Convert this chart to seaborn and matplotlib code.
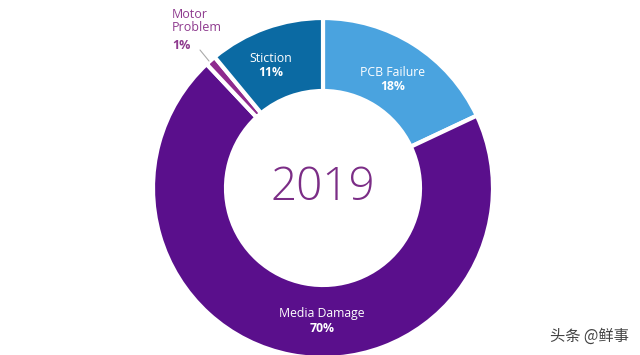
import seaborn as sns
import matplotlib.pyplot as plt

# slice data, clockwise from 12 o'clock
causes = ['PCB Failure', 'Media Damage', 'Motor Problem', 'Stiction']
shares = [18, 70, 1, 11]
colors = ['#4aa3df', '#5a0f8c', '#8e2a8e', '#0b6aa3']
year = '2019'

sns.set_theme(style='white')
plt.rcParams['font.family'] = ['Open Sans', 'DejaVu Sans']

fig = plt.figure(figsize=(6.4, 3.55), dpi=100)
ax = fig.add_axes([0, 0, 1, 1])

# donut
ax.pie(shares, colors=colors, startangle=90, counterclock=False,
       center=(323, 167), radius=170,
       wedgeprops=dict(width=73, edgecolor='white', linewidth=3))

# pie() resets the limits, so set them afterwards
ax.set_xlim(0, 640)
ax.set_ylim(0, 355)
ax.set_aspect('equal')
ax.axis('off')

ax.text(323, 167, year, ha='center', va='center', fontsize=33,
        color='#7b2d86', fontweight='light')

# in-slice labels
label_style = dict(ha='center', va='center', color='white', linespacing=1.15)
for name, pct, x, y in [('PCB Failure', 18, 393, 276),
                        ('Stiction', 11, 271, 290),
                        ('Media Damage', 70, 322, 34)]:
    ax.text(x, y + 7, name, fontsize=8.8, **label_style)
    ax.text(x, y - 8, f'{pct}%', fontsize=8.8, fontweight='bold', **label_style)

# outside label for the thin slice
ax.text(172, 347, 'Motor\nProblem', ha='left', va='top', fontsize=9,
        color='#8e3a8e', linespacing=1.0)
ax.text(172, 316, '1%', ha='left', va='top', fontsize=9,
        fontweight='bold', color='#8e3a8e')
ax.plot([200, 209], [305, 294], color='#aaaaaa', lw=0.8)

# watermark
ax.text(629, 19, '头条 @鲜事', ha='right', va='center', fontsize=11,
        color='#444444', family=['Noto Sans CJK SC', 'DejaVu Sans'])

fig.savefig('out.png', dpi=100)
